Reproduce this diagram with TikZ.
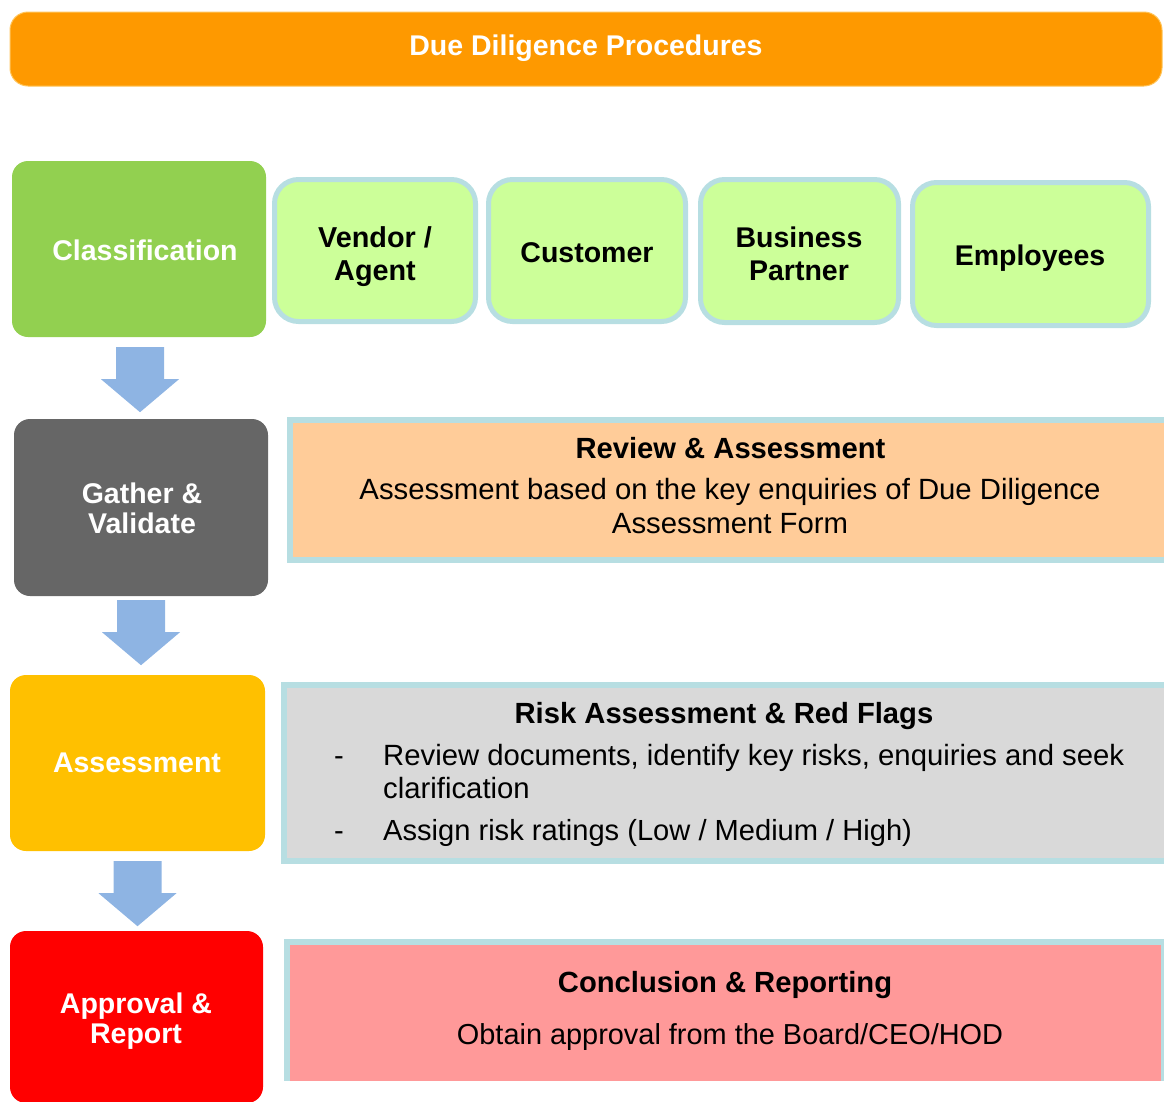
\documentclass[tikz,border=0pt]{standalone}
\usepackage{fontspec}
\setmainfont{Liberation Sans}
\usetikzlibrary{calc}
\definecolor{orangeT}{RGB}{254,153,0}
\definecolor{orangeE}{RGB}{255,196,90}
\definecolor{greenC}{RGB}{146,208,80}
\definecolor{lightG}{RGB}{204,255,153}
\definecolor{bord}{RGB}{183,222,226}
\definecolor{greyD}{RGB}{102,102,102}
\definecolor{peach}{RGB}{255,204,153}
\definecolor{amber}{RGB}{255,192,0}
\definecolor{greyL}{RGB}{217,217,217}
\definecolor{redR}{RGB}{255,0,0}
\definecolor{pinkC}{RGB}{255,153,153}
\definecolor{arrowblue}{RGB}{142,180,227}
\begin{document}
\begin{tikzpicture}[x=1pt,y=-1pt,
  txt/.style={inner sep=0pt, font=\fontsize{29.1}{31}\selectfont},
  btxt/.style={inner sep=0pt, font=\fontsize{28.5}{31}\selectfont\bfseries},
  htxt/.style={inner sep=0pt, font=\fontsize{29.2}{31}\selectfont\bfseries},
  stagebox/.style={rectangle, rounded corners=16pt, draw=none, inner sep=0pt},
  catbox/.style={rectangle, rounded corners=24pt, fill=lightG, draw=bord, line width=5pt, inner sep=0pt},
  detailbox/.style={rectangle, draw=bord, line width=6pt, inner sep=0pt},
  bigarrow/.style={fill=arrowblue, draw=none}
]
\useasboundingbox (0,0) rectangle (1164,1101);

% title bar
\node[stagebox, fill=orangeT, draw=orangeE, line width=1pt, rounded corners=18pt,
      minimum width=1152pt, minimum height=74pt] (title) at (586,49) {};
\node[btxt, text=white, anchor=base] (titletxt) at (586,55) {Due Diligence Procedures};

% stage boxes
\node[stagebox, fill=greenC, minimum width=254pt, minimum height=176pt] (class) at (139,249) {};
\node[btxt, text=white, anchor=base] (classtxt) at (145,260) {Classification};

\node[stagebox, fill=greyD, minimum width=254pt, minimum height=177pt] (gather) at (141,507.5) {};
\node[btxt, text=white, anchor=base, align=center, font=\fontsize{28.5}{30}\selectfont\bfseries] (gathertxt) at (142,533) {Gather \&\\Validate};

\node[stagebox, fill=amber, minimum width=255pt, minimum height=176pt] (assess) at (137.5,763) {};
\node[btxt, text=white, anchor=base] (assesstxt) at (137,772) {Assessment};

\node[stagebox, fill=redR, minimum width=253pt, minimum height=172pt] (approve) at (136.5,1017) {};
\node[btxt, text=white, anchor=base, align=center, font=\fontsize{28.5}{30}\selectfont\bfseries] (approvetxt) at (136,1043) {Approval \&\\Report};

% category boxes
\node[catbox, minimum width=201pt, minimum height=142pt] (vendor) at (375,250.5) {};
\node[btxt, anchor=base, align=center, font=\fontsize{28.8}{33}\selectfont\bfseries] (vendortxt) at (375,280) {Vendor /\\Agent};

\node[catbox, minimum width=197pt, minimum height=142pt] (customer) at (587,250.5) {};
\node[btxt, anchor=base] (customertxt) at (587,262) {Customer};

\node[catbox, minimum width=198pt, minimum height=143pt] (partner) at (799.5,251) {};
\node[btxt, anchor=base, align=center, font=\fontsize{28.5}{33}\selectfont\bfseries] (partnertxt) at (799,280) {Business\\Partner};

\node[catbox, minimum width=236pt, minimum height=143pt] (employees) at (1030.5,254) {};
\node[btxt, anchor=base] (employeestxt) at (1030,265) {Employees};

% review box
\node[detailbox, fill=peach, minimum width=879pt, minimum height=140pt] (review) at (729.5,490) {};
\node[htxt, anchor=base] (reviewtitle) at (730.5,458) {Review \& Assessment};
\node[txt, anchor=base, align=center, font=\fontsize{29.3}{34}\selectfont] (reviewtxt) at (730,533)
  {Assessment based on the key enquiries of Due Diligence\\Assessment Form};

% risk box
\node[detailbox, fill=greyL, minimum width=886pt, minimum height=176pt] (risk) at (727,773) {};
\node[htxt, anchor=base] (risktitle) at (724,723) {Risk Assessment \& Red Flags};
\node[txt, anchor=base] (dash1) at (339,765) {-};
\node[txt, anchor=base west, align=left, font=\fontsize{29.3}{33}\selectfont] (risk1) at (383,798)
  {Review documents, identify key risks, enquiries and seek\\clarification};
\node[txt, anchor=base] (dash2) at (339,840) {-};
\node[txt, anchor=base west] (risk2) at (383,840) {Assign risk ratings (Low / Medium / High)};

% conclusion box
\node[rectangle, fill=pinkC, inner sep=0pt, minimum width=877pt, minimum height=139pt] (concl) at (725.5,1011.5) {};
\draw[bord, line width=6pt] (concl.south west) -- (concl.north west) -- (concl.north east) -- (concl.south east);
\node[htxt, anchor=base] (concltitle) at (725,992) {Conclusion \& Reporting};
\node[txt, anchor=base, font=\fontsize{28.9}{31}\selectfont] (concltxt) at (730,1044) {Obtain approval from the Board/CEO/HOD};

% block arrows
\coordinate (a1) at ($(class.south)+(1,10)$);
\coordinate (a2) at ($(gather.south)+(0,4)$);
\coordinate (a3) at ($(assess.south)+(0,10)$);
\foreach \a in {a1,a2,a3}{
  \fill[bigarrow] ([shift={(-24,0)}]\a) -- ([shift={(24,0)}]\a) -- ([shift={(24,32)}]\a)
    -- ([shift={(39,32)}]\a) -- ([shift={(0,65)}]\a) -- ([shift={(-39,32)}]\a)
    -- ([shift={(-24,32)}]\a) -- cycle;
}
\end{tikzpicture}
\end{document}
